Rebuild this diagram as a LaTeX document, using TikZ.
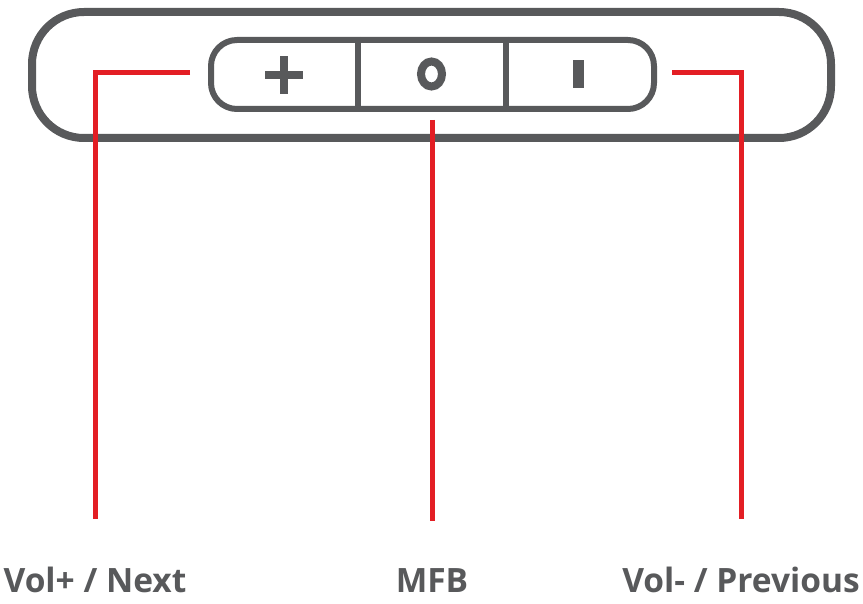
\documentclass[tikz,border=0pt]{standalone}
\usepackage{fontspec}
\setmainfont{Open Sans}
\usepackage{xcolor}
\usepackage{tikz}
\usetikzlibrary{calc, positioning}

\definecolor{casegray}{HTML}{58595B}
\definecolor{callred}{HTML}{E31E24}

\begin{document}
\begin{tikzpicture}[x=1pt, y=-1pt,
    casing/.style={draw=casegray, line width=8pt},
    keypad/.style={draw=casegray, line width=6pt},
    callout/.style={draw=callred, line width=5pt},
    keylabel/.style={anchor=base, inner sep=0pt, text=casegray,
        font=\fontsize{33.5}{33.5}\selectfont\bfseries}]

    \useasboundingbox (0,0) rectangle (863,604);

    % 1. Vỏ ngoài và cụm phím
    \draw[casing, rounded corners=52pt] (32,12) rectangle (831,138);
    \draw[keypad, rounded corners=26pt] (211,40) rectangle (654,109);
    \draw[keypad] (358,37) -- (358,112);
    \draw[keypad] (506,37) -- (506,112);

    % 2. Ký hiệu trên phím
    \fill[casegray] (265,71) rectangle (303,79);
    \fill[casegray] (280,56) rectangle (288,94);
    \draw[casegray, line width=8pt] (431.5,74) ellipse (10.5pt and 12.5pt);
    \fill[casegray] (573,60) rectangle (584,88);

    % 3. Nhãn
    \node[keylabel] (next) at (95,592) {Vol+ / Next};
    \node[keylabel] (mfb) at (432,592) {MFB};
    \node[keylabel] (prev) at (741,592) {Vol- / Previous};

    % 4. Đường chỉ dẫn
    \coordinate (plusend) at (190,73);
    \coordinate (mfbend) at (432,120);
    \coordinate (minusend) at (672,73);
    \draw[callout, shorten >=47pt] (plusend) -| (next.north);
    \draw[callout, shorten >=47pt] (mfbend) -- (mfb.north);
    \draw[callout, shorten >=47pt] (minusend) -| (prev.north);
\end{tikzpicture}
\end{document}
